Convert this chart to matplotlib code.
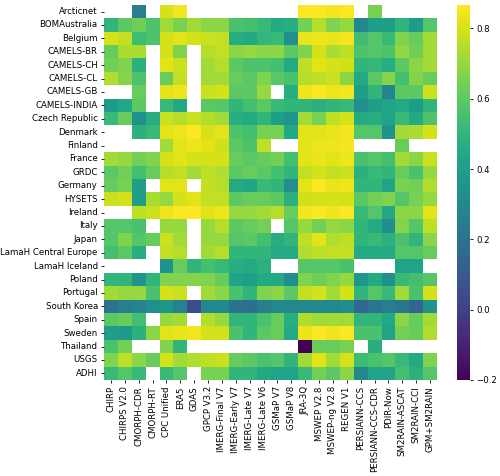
import numpy as np
import pandas as pd
import matplotlib
matplotlib.use("Agg")
import matplotlib.pyplot as plt
import seaborn as sns

nan = np.nan

products = ["CHIRP", "CHIRPS V2.0", "CMORPH-CDR", "CMORPH-RT", "CPC Unified", "ERA5",
            "GDAS", "GPCP V3.2", "IMERG-Final V7", "IMERG-Early V7", "IMERG-Late V7",
            "IMERG-Late V6", "GSMaP V7", "GSMaP V8", "JRA-3Q", "MSWEP V2.8",
            "MSWEP-ng V2.8", "REGEN V1", "PERSIANN-CCS", "PERSIANN-CCS-CDR", "PDIR-Now",
            "SM2RAIN-ASCAT", "SM2RAIN-CCI", "GPM+SM2RAIN"]

datasets = ["Arcticnet", "BOMAustralia", "Belgium", "CAMELS-BR", "CAMELS-CH", "CAMELS-CL",
            "CAMELS-GB", "CAMELS-INDIA", "Czech Republic", "Denmark", "Finland", "France",
            "GRDC", "Germany", "HYSETS", "Ireland", "Italy", "Japan", "LamaH Central Europe",
            "LamaH Iceland", "Poland", "Portugal", "South Korea", "Spain", "Sweden",
            "Thailand", "USGS", "ADHI"]

# correlation per dataset (row) and product (column)
arcticnet = [nan, nan, 0.25, nan, 0.80, 0.85, nan, nan, nan, nan, nan, nan,
             nan, nan, 0.867, 0.86, 0.85, 0.86, nan, 0.65, nan, nan, nan, nan]
bom = [0.50, 0.60, 0.63, 0.57, 0.72, 0.65, 0.72, 0.68, 0.68, 0.56, 0.55, 0.52,
       0.45, 0.47, 0.64, 0.75, 0.66, 0.70, 0.30, 0.40, 0.40, 0.50, 0.38, 0.58]
belgium = [0.80, 0.77, 0.53, 0.57, 0.80, 0.82, 0.80, 0.78, 0.77, 0.46, 0.44, 0.50,
           0.52, 0.33, 0.83, 0.84, 0.83, 0.85, 0.54, 0.58, 0.52, 0.66, 0.62, 0.72]
camels_br = [0.62, 0.73, 0.73, nan, 0.80, 0.66, nan, 0.75, 0.77, 0.68, 0.70, 0.68,
             0.68, 0.60, 0.66, 0.80, 0.73, 0.76, 0.57, 0.58, 0.57, 0.69, 0.63, 0.72]
camels_ch = [0.64, 0.66, 0.48, nan, 0.82, 0.78, nan, 0.72, 0.75, 0.60, 0.57, 0.57,
             0.55, 0.45, 0.76, 0.82, 0.80, 0.79, 0.50, 0.51, 0.46, 0.60, 0.68, 0.72]
camels_cl = [0.74, 0.67, 0.57, nan, 0.62, 0.77, nan, 0.72, 0.72, 0.62, 0.60, 0.66,
             0.59, 0.56, 0.75, 0.76, 0.78, 0.68, 0.45, 0.60, 0.67, 0.55, 0.67, 0.62]
camels_gb = [nan, nan, 0.62, nan, 0.82, 0.84, nan, 0.78, 0.80, 0.60, 0.60, 0.70,
             nan, 0.47, 0.84, 0.867, 0.84, 0.85, 0.40, 0.50, 0.28, 0.60, 0.60, 0.78]
camels_in = [0.38, 0.44, 0.60, nan, 0.52, 0.44, nan, 0.60, 0.58, 0.50, 0.55, 0.60,
             0.52, 0.50, 0.50, 0.48, 0.50, 0.52, 0.33, 0.40, 0.42, 0.45, 0.38, 0.50]
czech = [0.52, 0.62, 0.33, 0.47, 0.78, 0.75, 0.78, 0.75, 0.72, 0.47, 0.45, 0.50,
         0.40, 0.36, 0.72, 0.65, 0.76, 0.80, 0.45, 0.46, 0.42, 0.52, 0.45, 0.57]
denmark = [nan, nan, 0.48, 0.52, 0.82, 0.84, 0.867, 0.80, 0.82, 0.57, 0.55, 0.65,
           0.65, 0.44, 0.82, 0.82, 0.83, 0.85, 0.58, 0.58, 0.35, 0.72, 0.73, 0.80]
finland = [nan, nan, nan, nan, 0.72, 0.82, 0.84, 0.82, 0.79, 0.60, 0.57, 0.76,
           nan, nan, 0.82, 0.84, 0.84, 0.85, nan, nan, nan, 0.62, nan, nan]
france = [0.72, 0.70, 0.64, 0.66, 0.80, 0.82, 0.80, 0.80, 0.80, 0.62, 0.60, 0.62,
          0.64, 0.55, 0.82, 0.83, 0.82, 0.84, 0.56, 0.58, 0.55, 0.72, 0.68, 0.78]
grdc = [0.60, 0.64, 0.55, 0.62, 0.75, 0.77, 0.72, 0.76, 0.74, 0.60, 0.62, 0.60,
        0.55, 0.50, 0.77, 0.80, 0.77, 0.78, 0.48, 0.52, 0.50, 0.62, 0.56, 0.70]
germany = [0.62, 0.65, 0.40, nan, 0.82, 0.82, nan, 0.77, 0.75, 0.45, 0.43, 0.52,
           0.50, 0.33, 0.82, 0.86, 0.83, 0.84, 0.50, 0.50, 0.42, 0.65, 0.64, 0.74]
hysets = [0.78, 0.80, 0.40, 0.73, 0.70, 0.80, 0.82, 0.77, 0.77, 0.60, 0.62, 0.62,
          0.60, 0.48, 0.79, 0.80, 0.80, 0.80, 0.60, 0.64, 0.66, 0.58, 0.65, 0.70]
ireland = [nan, nan, 0.76, 0.78, 0.84, 0.86, 0.867, 0.82, 0.84, 0.70, 0.70, 0.72,
           0.75, 0.62, 0.85, 0.86, 0.84, 0.867, 0.52, 0.58, 0.44, 0.68, 0.68, 0.82]
italy = [0.58, 0.58, 0.56, nan, 0.70, 0.70, nan, 0.70, 0.75, 0.60, 0.62, 0.64,
         nan, 0.58, 0.70, 0.64, 0.70, 0.68, 0.50, 0.45, 0.32, 0.67, 0.58, 0.76]
japan = [0.58, 0.66, 0.58, 0.62, 0.78, 0.72, nan, 0.70, 0.70, 0.58, 0.60, 0.55,
         0.46, 0.50, 0.76, 0.82, 0.74, 0.76, 0.50, 0.52, 0.48, 0.56, 0.50, 0.68]
lamah_ce = [0.55, 0.60, 0.46, nan, 0.77, 0.75, nan, 0.72, 0.75, 0.50, 0.50, 0.50,
            0.45, 0.45, 0.74, 0.76, 0.77, 0.77, 0.45, 0.45, 0.45, 0.58, 0.58, 0.62]
lamah_is = [nan, nan, nan, nan, 0.35, 0.62, 0.50, 0.55, 0.52, 0.47, 0.45, 0.48,
            nan, nan, 0.58, 0.58, 0.58, 0.56, nan, nan, nan, 0.42, 0.42, nan]
poland = [0.50, 0.50, 0.35, 0.50, 0.66, 0.66, 0.67, 0.66, 0.62, 0.42, 0.40, 0.45,
          0.45, 0.32, 0.66, 0.63, 0.66, 0.70, 0.36, 0.45, 0.33, 0.52, 0.55, 0.58]
portugal = [0.72, 0.70, 0.70, 0.56, 0.80, 0.78, nan, 0.72, 0.68, 0.56, 0.50, 0.66,
            0.68, 0.60, 0.77, 0.80, 0.72, 0.80, 0.50, 0.58, 0.52, 0.72, 0.56, 0.80]
south_korea = [0.20, 0.25, 0.28, 0.33, 0.36, 0.27, 0.05, 0.30, 0.30, 0.20, 0.18, 0.25,
               0.30, 0.30, 0.30, 0.30, 0.30, 0.32, 0.15, 0.22, 0.25, 0.22, 0.15, 0.35]
spain = [0.60, 0.62, 0.55, nan, 0.70, 0.72, nan, 0.75, 0.70, 0.50, 0.50, 0.56,
         0.62, 0.46, 0.74, 0.72, 0.72, 0.72, 0.50, 0.50, 0.44, 0.68, 0.62, 0.72]
sweden = [0.40, 0.38, 0.48, 0.68, 0.82, 0.83, 0.85, 0.80, 0.80, 0.56, 0.50, 0.60,
          0.62, 0.45, 0.83, 0.867, 0.84, 0.86, 0.56, 0.56, 0.42, 0.64, 0.62, 0.74]
thailand = [0.56, 0.64, nan, nan, 0.66, 0.50, nan, nan, nan, nan, nan, nan,
            nan, nan, -0.20, 0.62, 0.62, 0.65, nan, 0.47, nan, nan, nan, nan]
usgs = [0.66, 0.76, 0.68, 0.62, 0.80, 0.72, 0.74, 0.76, 0.78, 0.62, 0.60, 0.56,
        0.58, 0.50, 0.72, 0.82, 0.72, 0.80, 0.53, 0.56, 0.58, 0.52, 0.45, 0.66]
adhi = [0.52, 0.58, 0.52, nan, 0.52, 0.58, nan, 0.65, 0.65, 0.50, 0.50, 0.45,
        0.42, 0.42, 0.52, 0.64, 0.60, 0.68, 0.30, 0.42, 0.42, 0.55, 0.48, 0.58]

rows = [arcticnet, bom, belgium, camels_br, camels_ch, camels_cl, camels_gb, camels_in,
        czech, denmark, finland, france, grdc, germany, hysets, ireland, italy, japan,
        lamah_ce, lamah_is, poland, portugal, south_korea, spain, sweden, thailand,
        usgs, adhi]

df = pd.DataFrame(rows, index=datasets, columns=products)

FS = 6.2

fig = plt.figure(figsize=(5.0, 4.76), dpi=100)
ax = fig.add_axes([0.208, 0.2017, 0.666, 0.788])
cax = fig.add_axes([0.914, 0.2017, 0.026, 0.788])

sns.heatmap(df, cmap="viridis", ax=ax, cbar_ax=cax)

ax.set_xticks(np.arange(len(products)) + 0.5)
ax.set_xticklabels(products, rotation=90, fontsize=FS)
ax.set_yticks(np.arange(len(datasets)) + 0.5)
ax.set_yticklabels(datasets, rotation=0, fontsize=FS)
ax.tick_params(length=2.5, width=0.6, pad=2)
cax.tick_params(labelsize=FS, length=2.5, width=0.6, pad=2)
cax.set_yticks([-0.2, 0.0, 0.2, 0.4, 0.6, 0.8])

fig.savefig("out.png", dpi=100)
